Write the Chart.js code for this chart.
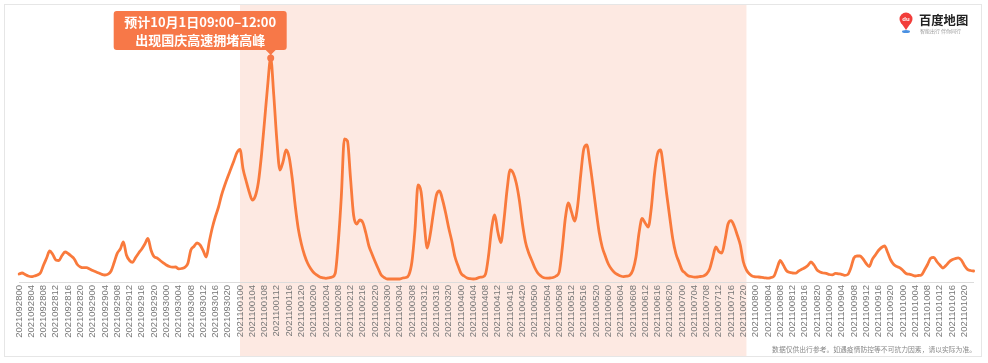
<!DOCTYPE html>
<html>
<head>
<meta charset="utf-8">
<script src="https://cdn.jsdelivr.net/npm/chart.js@4.4.1/dist/chart.umd.min.js"></script>
<style>
  html,body{margin:0;padding:0;background:#fff;}
  #wrap{width:988px;height:363px;}
</style>
</head>
<body>
<div id="wrap"><canvas id="c" width="988" height="363"></canvas></div>
<script>
// ---- data ----
const days = ['20210928','20210929','20210930','20211001','20211002','20211003','20211004','20211005','20211006','20211007','20211008','20211009','20211010'];
const hours = ['00','01','02','03','04','05','06','07','08','09','10','11','12','13','14','15','16','17','18','19','20','21','22','23'];
const labels = [];
days.forEach(d => hours.forEach(h => labels.push(d + h)));

// hourly congestion index (relative units)
const congestion = [
  8,9,7.5,6,5.3,6,7,9.2,17,24,31,27.5,22,21.5,26.5,30,28.5,26,23,17.5,15,14.3,14.3,13,
  11.5,10.3,9,7.6,7,7.8,11,19.5,28.7,33,40,27,21.5,19.7,24.5,29,33,38,43.5,32,25.3,24,21.5,19.2,
  17,15.5,14.8,15,13.2,13.5,14.7,18.5,32,35.5,39,37,31.5,25,40.5,54.5,65.5,75,87,96.5,105,113,121,129.3,
  132.7,113,101,90,82,86,100,127,161,196,224,187,142,112,120,132,125,104,76,53,38,27,19,13.5,
  9.5,7,5,4.2,3.7,4.2,5,8.5,39,85,143,141,104,67,58,62,59.5,49,36,28,20.5,13.5,7,4.5,
  3,3,3,3,3,4,4.5,7,20,52,97,90,59,34,48,69,87,91,82,69,54,41,25.5,16.5,
  8.7,6,4,3.3,3,3.3,4.7,5,8,27,54,67,50,39.5,62,92,112,109,99,82,58.5,40,29.5,22,
  14.5,9,6,4.2,3.8,4,4.5,6,10,34,64,79,70,61,76,107,133,137,118.7,96,72,50,35,26,
  18,13,9.5,7.5,6,5.4,5.8,6.8,12,25,49,63.5,59,55,74,107,128,132,113,88,65,43,28.5,20,
  12,9,6.2,5.5,4.8,5,5.5,6,8,13,24,35,30.5,29,42,58,61.3,56,47,37,20,12,8,5.7,
  5.2,5,4.7,4.2,3.8,4.5,6,14,21.5,17,11.5,9.7,9,8.8,11,12.7,14.2,16.5,20,17,12,10,9,8.7,
  7.5,7.2,8.7,8.2,7.7,6.7,7.5,14,24,26,26,23,18.5,15.5,22.7,27,31.5,34.5,36,29.5,22,17.5,15.5,14.2,
  11.5,8.5,7.8,7,6,6.5,7,12,17.5,23.7,24.7,20.5,17,14,16.5,20,22.2,23.4,24.2,22,16.5,12.7,11.5,11
];

const holidayStart = '2021100100';
const holidayEnd = '2021100721';
const calloutLines = ['预计10月1日09:00–12:00', '出现国庆高速拥堵高峰'];
const footnote = '数据仅供出行参考。如遇疫情防控等不可抗力因素，请以实际为准。';
const brandName = '百度地图';
const brandSub = '智能出行 伴你同行';

const LINE = '#F97A3C';
const SHADE = '#FDE9E2';
const CALLOUT = '#F77848';

// ---- plugins ----
const bgPlugin = {
  id: 'bg',
  beforeDraw(chart) {
    const ctx = chart.ctx, x = chart.scales.x;
    ctx.save();
    ctx.fillStyle = '#fff';
    ctx.fillRect(0, 0, chart.width, chart.height);
    const x0 = x.getPixelForValue(labels.indexOf(holidayStart));
    const x1 = x.getPixelForValue(labels.indexOf(holidayEnd));
    ctx.fillStyle = SHADE;
    ctx.fillRect(x0, 5, x1 - x0, 352);
    ctx.strokeStyle = '#e6e6e6';
    ctx.lineWidth = 1;
    ctx.strokeRect(4.5, 4.5, 977, 352);
    ctx.restore();
  }
};

const calloutPlugin = {
  id: 'callout',
  afterDatasetsDraw(chart) {
    const ctx = chart.ctx;
    const meta = chart.getDatasetMeta(0);
    let pi = 0;
    congestion.forEach((v, i) => { if (v > congestion[pi]) pi = i; });
    const p = meta.data[pi];
    const px = p.x, py = p.y;
    ctx.save();
    ctx.fillStyle = CALLOUT;
    ctx.beginPath(); ctx.arc(px, py, 3.5, 0, Math.PI * 2); ctx.fill();
    const bl = px - 157, br = px + 16, bt = py - 47, bb = py - 8;
    ctx.strokeStyle = CALLOUT; ctx.lineWidth = 1.5;
    ctx.beginPath(); ctx.moveTo(px, bb); ctx.lineTo(px, py); ctx.stroke();
    ctx.beginPath();
    const r = 3;
    ctx.moveTo(bl + r, bt);
    ctx.lineTo(br - r, bt); ctx.quadraticCurveTo(br, bt, br, bt + r);
    ctx.lineTo(br, bb - r); ctx.quadraticCurveTo(br, bb, br - r, bb);
    ctx.lineTo(px + 5, bb); ctx.lineTo(px, bb + 5); ctx.lineTo(px - 5, bb);
    ctx.lineTo(bl + r, bb); ctx.quadraticCurveTo(bl, bb, bl, bb - r);
    ctx.lineTo(bl, bt + r); ctx.quadraticCurveTo(bl, bt, bl + r, bt);
    ctx.closePath(); ctx.fill();
    ctx.fillStyle = '#fff';
    ctx.font = 'bold 13px "Noto Sans CJK SC", "Noto Sans", sans-serif';
    ctx.textAlign = 'center'; ctx.textBaseline = 'middle';
    const cx = (bl + br) / 2;
    ctx.fillText(calloutLines[0], cx, bt + 11);
    ctx.fillText(calloutLines[1], cx, bt + 29);
    ctx.restore();
  },
  afterDraw(chart) {
    const ctx = chart.ctx;
    ctx.save();
    // logo pin
    ctx.fillStyle = '#F23D3A';
    ctx.beginPath(); ctx.arc(906, 19, 6.5, 0, Math.PI * 2); ctx.fill();
    ctx.beginPath(); ctx.moveTo(900.5, 22); ctx.lineTo(906, 30); ctx.lineTo(911.5, 22); ctx.fill();
    ctx.fillStyle = '#4A90E2';
    ctx.beginPath(); ctx.ellipse(906, 31.5, 4, 1.5, 0, 0, Math.PI * 2); ctx.fill();
    ctx.fillStyle = '#fff';
    ctx.font = 'bold 6px "Liberation Sans", sans-serif';
    ctx.textAlign = 'center'; ctx.textBaseline = 'middle';
    ctx.fillText('du', 906, 19.5);
    // brand
    ctx.fillStyle = '#222';
    ctx.font = 'bold 12.3px "Noto Sans CJK SC", sans-serif';
    ctx.textAlign = 'left'; ctx.textBaseline = 'middle';
    ctx.fillText(brandName, 919, 20);
    ctx.fillStyle = '#999';
    ctx.font = '5px "Noto Sans CJK SC", sans-serif';
    ctx.fillText(brandSub, 920, 31);
    // footnote
    ctx.fillStyle = '#888';
    ctx.font = '6.8px "Noto Sans CJK SC", sans-serif';
    ctx.textAlign = 'right';
    ctx.fillText(footnote, 976, 349);
    ctx.restore();
  }
};

new Chart(document.getElementById('c'), {
  type: 'line',
  data: {
    labels: labels,
    datasets: [{
      data: congestion,
      borderColor: LINE,
      borderWidth: 2.8,
      pointRadius: 0,
      pointHoverRadius: 0,
      tension: 0.4,
      cubicInterpolationMode: 'monotone',
      fill: false,
      borderCapStyle: 'round',
      borderJoinStyle: 'round'
    }]
  },
  options: {
    responsive: false,
    animation: false,
    devicePixelRatio: 1,
    layout: { padding: { left: 19, right: 11, top: 22, bottom: 0 } },
    plugins: { legend: { display: false }, tooltip: { enabled: false } },
    scales: {
      x: {
        grid: { display: false, drawTicks: false },
        border: { display: true, color: '#dcdcdc', width: 1 },
        ticks: {
          autoSkip: false, maxRotation: 90, minRotation: 90, padding: 3,
          color: '#777',
          font: { family: '"Liberation Sans", Arial, sans-serif', size: 9.5 },
          callback: (v, i) => (i % 4 === 0 ? labels[i] : '')
        },
        afterFit: s => { s.height = 81; }
      },
      y: { display: false, min: 0, max: 260 }
    }
  },
  plugins: [bgPlugin, calloutPlugin]
});
</script>
</body>
</html>
